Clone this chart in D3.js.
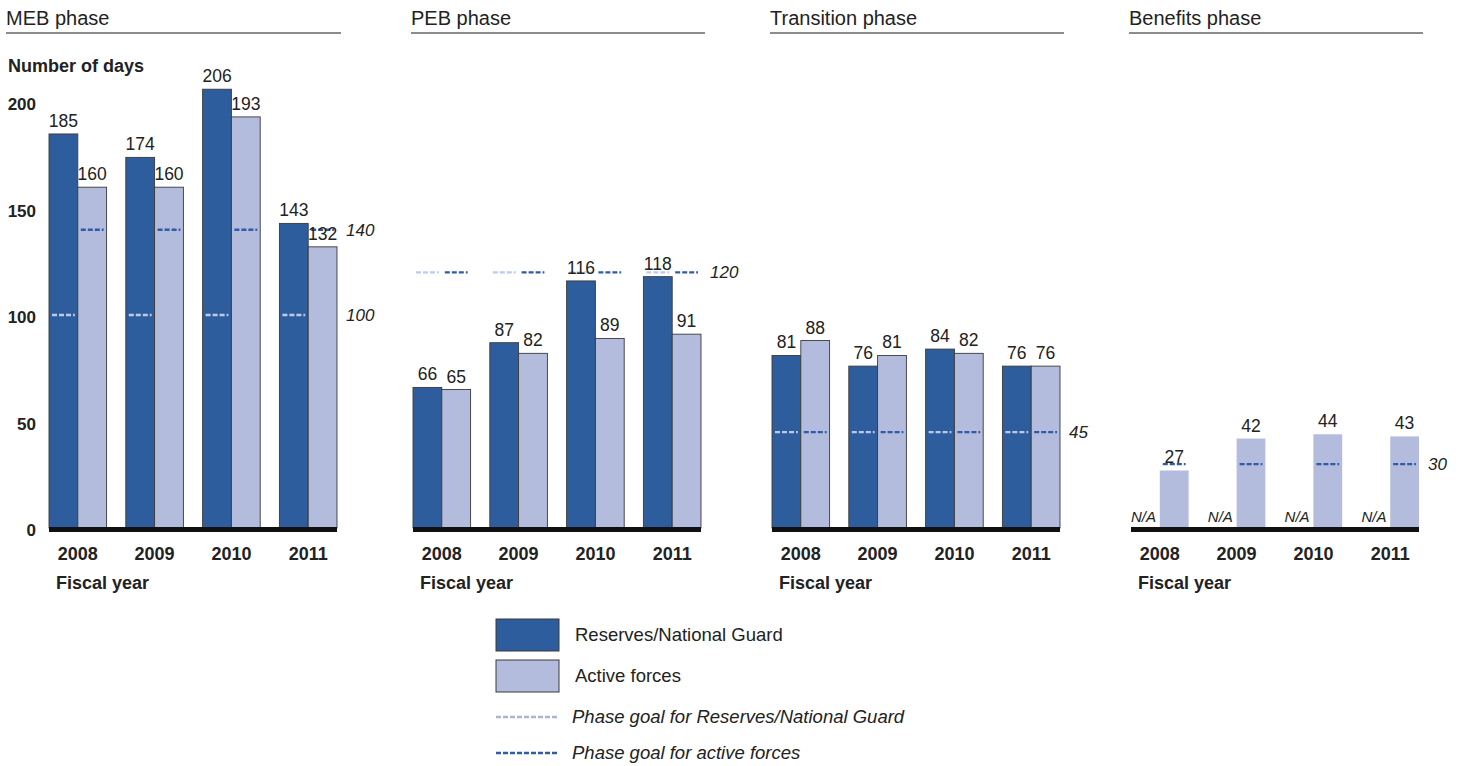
<!DOCTYPE html>
<html>
<head>
<meta charset="utf-8">
<script src="https://cdn.jsdelivr.net/npm/d3@7"></script>
<style>
  body { margin: 0; background: #fff; }
  svg text { font-family: "Liberation Sans", Arial, sans-serif; fill: #222; }
</style>
</head>
<body>
<div id="chart"></div>
<script>
// chart values
var phases = ['MEB phase', 'PEB phase', 'Transition phase', 'Benefits phase'];
var years = ['2008', '2009', '2010', '2011'];
var series = ['reserves', 'active'];
var reservesDays = [[185, 174, 206, 143], [66, 87, 116, 118], [81, 76, 84, 76], [null, null, null, null]];
var activeDays = [[160, 160, 193, 132], [65, 82, 89, 91], [88, 81, 82, 76], [27, 42, 44, 43]];
var reservesGoal = [100, 120, 45, null];
var activeGoal = [140, 120, 45, 30];
var yTicks = [0, 50, 100, 150, 200];
var legendLabels = ['Reserves/National Guard', 'Active forces', 'Phase goal for Reserves/National Guard', 'Phase goal for active forces'];

var width = 1460, height = 766;
var darkBlue = '#2e5d9e', lightBlue = '#b3bcdd';
var goalLight = '#bccaec', goalDark = '#2f5ba8';

var svg = d3.select('#chart').append('svg')
    .attr('width', width).attr('height', height);

var y = d3.scaleLinear().domain([0, 200]).range([528, 102]);
var panelLeft = [49, 413, 772, 1131];
var panelWidth = 288;

phases.forEach(function(phase, p) {
    var g = svg.append('g');
    var x0 = d3.scaleBand().domain(years)
        .range([panelLeft[p], panelLeft[p] + panelWidth])
        .paddingInner(0.25).paddingOuter(0);
    var x1 = d3.scaleBand().domain(series).range([0, x0.bandwidth()]);

    // title + rule
    var titleX = p == 0 ? 6 : panelLeft[p] - 2;
    g.append('text').attr('x', titleX).attr('y', 25)
        .style('font-size', '20px').text(phase);
    g.append('line')
        .attr('x1', titleX).attr('x2', panelLeft[p] + 292)
        .attr('y1', 33).attr('y2', 33)
        .attr('stroke', '#666').attr('stroke-width', 1.6);

    var rows = years.map(function(yr, i) {
        return { year: yr, reserves: reservesDays[p][i], active: activeDays[p][i] };
    });

    var groups = g.selectAll('.grp').data(rows).enter().append('g')
        .attr('transform', function(d) { return 'translate(' + x0(d.year) + ',0)'; });

    groups.selectAll('rect')
        .data(function(d) {
            return series.map(function(s) { return { key: s, value: d[s] }; })
                .filter(function(e) { return e.value != null; });
        })
        .enter().append('rect')
        .attr('x', function(d) { return x1(d.key); })
        .attr('y', function(d) { return y(d.value); })
        .attr('width', x1.bandwidth())
        .attr('height', function(d) { return y(0) - y(d.value); })
        .attr('fill', function(d) { return d.key == 'reserves' ? darkBlue : lightBlue; })
        .attr('stroke', function(d) { return p == 3 ? 'none' : '#3a3a3a'; })
        .attr('stroke-width', 0.9);

    // goal dashes
    groups.each(function() {
        var gg = d3.select(this);
        if (reservesGoal[p] != null) {
            gg.append('line')
                .attr('x1', x1('reserves') + 3).attr('x2', x1('reserves') + x1.bandwidth() - 3)
                .attr('y1', y(reservesGoal[p])).attr('y2', y(reservesGoal[p]))
                .attr('stroke', goalLight).attr('stroke-width', 2.4)
                .attr('stroke-dasharray', '5,2');
        }
        if (activeGoal[p] != null) {
            gg.append('line')
                .attr('x1', x1('active') + 3).attr('x2', x1('active') + x1.bandwidth() - 3)
                .attr('y1', y(activeGoal[p])).attr('y2', y(activeGoal[p]))
                .attr('stroke', goalDark).attr('stroke-width', 2.4)
                .attr('stroke-dasharray', '5,2');
        }
    });

    // value labels
    groups.selectAll('.val')
        .data(function(d) { return series.map(function(s) { return { key: s, value: d[s] }; }); })
        .enter().append('text')
        .attr('x', function(d) { return d.value == null ? x1(d.key) : x1(d.key) + x1.bandwidth() / 2; })
        .attr('y', function(d) { return d.value == null ? y(0) - 6 : y(d.value) - 7; })
        .attr('text-anchor', function(d) { return d.value == null ? 'start' : 'middle'; })
        .style('font-size', function(d) { return d.value == null ? '15px' : '17.5px'; })
        .style('font-style', function(d) { return d.value == null ? 'italic' : 'normal'; })
        .text(function(d) { return d.value == null ? 'N/A' : d.value; });

    // goal value labels
    var goals = [];
    if (reservesGoal[p] != null) goals.push(reservesGoal[p]);
    if (activeGoal[p] != null && activeGoal[p] != reservesGoal[p]) goals.push(activeGoal[p]);
    g.selectAll('.goal').data(goals).enter().append('text')
        .attr('x', panelLeft[p] + panelWidth + 9)
        .attr('y', function(d) { return y(d) + 6; })
        .style('font-size', '17px').style('font-style', 'italic')
        .text(function(d) { return d; });

    // baseline
    g.append('rect')
        .attr('x', panelLeft[p]).attr('y', y(0) - 1)
        .attr('width', panelWidth).attr('height', 5)
        .attr('fill', '#111');

    // x axis
    var xAxis = d3.axisBottom(x0).tickSize(0).tickPadding(0);
    var ax = g.append('g').attr('transform', 'translate(0,' + (y(0) + 16) + ')').call(xAxis);
    ax.select('.domain').remove();
    ax.selectAll('text').attr('dy', '0.9em')
        .style('font-size', '18px').style('font-weight', 'bold').style('fill', '#222')
        .style('font-family', '"Liberation Sans", Arial, sans-serif');

    g.append('text').attr('x', panelLeft[p] + 7).attr('y', 589)
        .style('font-size', '18px').style('font-weight', 'bold')
        .text('Fiscal year');
});

// y axis on first panel only
var yAxis = d3.axisLeft(y).tickValues(yTicks).tickSize(0).tickPadding(0);
var yg = svg.append('g').attr('transform', 'translate(36,0)').call(yAxis);
yg.select('.domain').remove();
yg.selectAll('text').attr('dy', '0.45em')
    .style('font-size', '17px').style('font-weight', 'bold').style('fill', '#222')
    .style('font-family', '"Liberation Sans", Arial, sans-serif');

svg.append('text').attr('x', 8).attr('y', 72)
    .style('font-size', '18px').style('font-weight', 'bold')
    .text('Number of days');

// legend
var legend = svg.append('g').attr('transform', 'translate(496,0)');
var legendY = [635, 676, 717, 753];
legend.selectAll('rect').data([darkBlue, lightBlue]).enter().append('rect')
    .attr('x', 0).attr('y', function(d, i) { return legendY[i] - 16; })
    .attr('width', 63).attr('height', 32)
    .attr('fill', function(d) { return d; })
    .attr('stroke', '#3a3a3a').attr('stroke-width', 1);
legend.selectAll('line').data([goalLight, goalDark]).enter().append('line')
    .attr('x1', 0).attr('x2', 63)
    .attr('y1', function(d, i) { return legendY[i + 2]; })
    .attr('y2', function(d, i) { return legendY[i + 2]; })
    .attr('stroke', function(d, i) { return i == 0 ? '#aab5da' : d; })
    .attr('stroke-width', 2.6).attr('stroke-dasharray', '5,2');
legend.selectAll('text').data(legendLabels).enter().append('text')
    .attr('x', function(d, i) { return i < 2 ? 79 : 76; })
    .attr('y', function(d, i) { return legendY[i] + 6; })
    .style('font-size', '18.5px')
    .style('font-style', function(d, i) { return i < 2 ? 'normal' : 'italic'; })
    .text(function(d) { return d; });
</script>
</body>
</html>
